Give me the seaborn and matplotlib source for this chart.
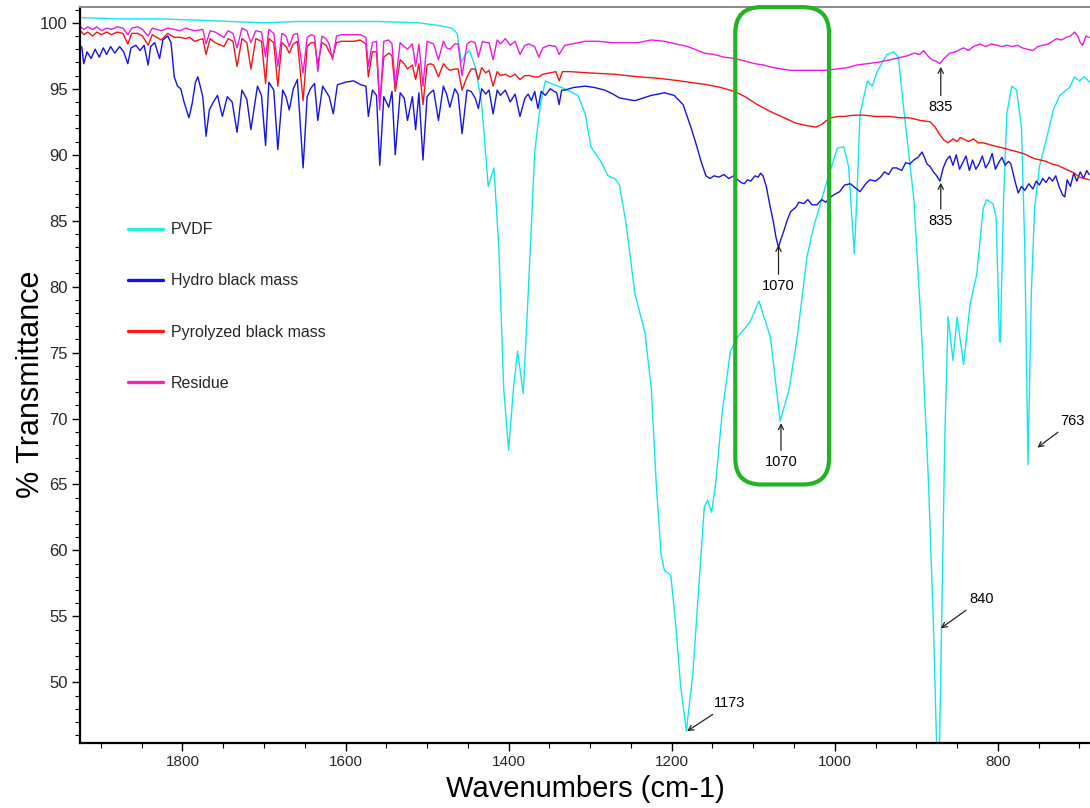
import numpy as np
import pandas as pd
import matplotlib
matplotlib.use("Agg")
import matplotlib.pyplot as plt
import seaborn as sns
from matplotlib.patches import FancyBboxPatch
from matplotlib.transforms import IdentityTransform
from matplotlib.ticker import MultipleLocator
from matplotlib.lines import Line2D

# ---------------- data ----------------
SERIES = ["PVDF", "Hydro black mass", "Pyrolyzed black mass", "Residue"]
COLORS = ["#12e6ea", "#1414e0", "#f41414", "#ee18e6"]
LEGEND_COLORS = ["#22eee0", "#1010f0", "#ff1a1a", "#ff1fb8"]

PVDF_WN = [1925.6, 1880, 1830, 1780, 1740, 1700, 1660, 1620, 1560, 1510, 1486, 1470,
           1463, 1458, 1453, 1448, 1440, 1433, 1428, 1425, 1418, 1415, 1412, 1406,
           1400, 1394, 1389, 1382, 1376, 1368, 1361, 1355, 1348, 1331, 1315, 1306,
           1299, 1287, 1278, 1270, 1264, 1256, 1245, 1233, 1225, 1219, 1213, 1209,
           1201, 1195, 1189, 1182, 1174, 1166, 1160, 1156, 1151, 1146, 1138, 1128,
           1119, 1104, 1093, 1079, 1067, 1056, 1046, 1034, 1026, 1009, 997, 989,
           983, 979, 976, 973, 969, 960, 954, 948, 936, 928, 922, 916, 903, 893,
           885, 879, 875, 872, 869, 865, 861, 855, 850, 842, 834, 826, 818, 814,
           806, 802, 798, 797, 793, 789, 783, 777, 771, 767, 763, 759, 755, 749,
           740, 732, 724, 712, 706, 700, 694, 687]
PVDF_T = [100.4, 100.3, 100.3, 100.2, 100.1, 100.0, 100.1, 100.1, 100.1, 100.0, 99.8, 99.6,
          99.2, 97.0, 97.6, 97.9, 96.5, 93.8, 90.0, 87.6, 89.0, 86.0, 83.0, 72.3,
          67.6, 72.3, 75.1, 71.9, 79.4, 90.2, 93.8, 95.6, 95.4, 95.0, 94.5, 93.1,
          90.6, 89.5, 88.4, 88.2, 87.7, 84.8, 79.4, 76.6, 72.3, 65.1, 59.7, 58.5,
          58.1, 54.3, 49.7, 46.3, 50.7, 57.9, 63.3, 63.8, 62.9, 65.1, 70.5, 75.1,
          76.2, 77.3, 78.9, 76.2, 69.8, 72.2, 76.2, 82.3, 84.5, 88.1, 90.5, 90.6,
          89.1, 85.2, 82.5, 86.6, 93.1, 95.6, 95.2, 96.3, 97.6, 97.8, 97.4, 93.8, 86.6, 75.9,
          65.1, 54.3, 45.0, 43.5, 54.3, 68.7, 77.7, 74.4, 77.7, 74.1, 78.7, 80.9, 85.9, 86.6,
          86.3, 85.2, 75.9, 75.8, 86.6, 93.1, 95.2, 94.9, 92.0, 83.0, 66.5, 79.4, 85.9, 89.1,
          91.3, 93.4, 94.5, 95.1, 95.9, 95.6, 95.9, 95.5]

HYDRO_WN = [1923.5, 1921, 1917, 1912, 1907, 1902, 1897, 1893, 1888, 1883, 1877, 1872,
            1867, 1863, 1857, 1852, 1847, 1842, 1839, 1834, 1828, 1824, 1818, 1814,
            1810, 1806, 1802, 1798, 1792, 1788, 1784, 1781, 1775, 1771, 1767, 1762,
            1757, 1751, 1745, 1739, 1733, 1727, 1721, 1716, 1708, 1703, 1698, 1694,
            1688, 1683, 1677, 1673, 1669, 1664, 1659, 1652, 1647, 1643, 1638, 1634,
            1628, 1624, 1620, 1615, 1610, 1605, 1600, 1590, 1581, 1575, 1572, 1567,
            1562, 1558, 1553, 1547, 1543, 1539, 1533, 1528, 1524, 1518, 1514, 1510,
            1505, 1500, 1496, 1492, 1486, 1480, 1476, 1472, 1466, 1462, 1457, 1451,
            1446, 1441, 1437, 1433, 1428, 1424, 1419, 1414, 1410, 1404, 1398, 1392,
            1386, 1380, 1376, 1372, 1368, 1364, 1360, 1355, 1349, 1344, 1341, 1338,
            1335, 1331, 1320, 1306, 1295, 1282, 1272, 1264, 1255, 1245, 1235, 1225,
            1216, 1209, 1197, 1186, 1176, 1170, 1164, 1158, 1153, 1148, 1142, 1136,
            1130, 1124, 1119, 1115, 1111, 1107, 1103, 1098, 1094, 1091, 1088, 1084,
            1080, 1075, 1072, 1069, 1066, 1062, 1058, 1054, 1048, 1044, 1038, 1033,
            1028, 1022, 1016, 1011, 1005, 1000, 994, 988, 981, 975, 969, 962, 957,
            950, 944, 939, 934, 929, 924, 918, 913, 908, 903, 898, 893, 890, 887,
            883, 879, 875, 871, 867, 863, 859, 855, 851, 847, 843, 839, 835, 831,
            827, 823, 819, 815, 811, 807, 803, 799, 795, 791, 787, 784, 779, 775,
            771, 767, 762, 757, 753, 749, 745, 741, 737, 733, 729, 725, 721, 718,
            715, 711, 707, 703, 699, 695, 691, 688]
HYDRO_T = [98.2, 96.9, 97.8, 97.3, 98.0, 97.4, 98.1, 97.6, 98.2, 97.7, 98.2, 97.8,
           96.9, 98.1, 98.3, 97.9, 98.3, 96.8, 98.2, 98.5, 97.3, 98.7, 99.0, 98.5,
           95.9, 95.2, 95.0, 94.0, 92.8, 93.9, 95.5, 95.9, 94.4, 91.4, 93.4, 94.0,
           94.5, 92.9, 94.4, 94.0, 91.7, 94.9, 94.2, 91.9, 95.2, 94.5, 90.7, 95.5,
           94.9, 90.4, 94.9, 94.4, 93.4, 95.0, 95.7, 89.0, 94.4, 95.0, 95.4, 92.6,
           95.2, 94.8, 94.4, 93.1, 95.3, 95.4, 95.5, 95.6, 95.3, 95.2, 92.9, 94.9,
           94.5, 89.2, 94.4, 93.6, 94.8, 90.0, 94.7, 94.3, 92.6, 94.4, 91.9, 94.7,
           89.6, 94.4, 94.7, 94.9, 92.6, 95.2, 94.6, 93.6, 95.0, 94.6, 91.6, 94.9,
           94.8, 94.3, 93.5, 95.0, 94.6, 94.9, 93.1, 94.9, 94.5, 94.9, 94.0, 94.6,
           92.9, 94.3, 94.6, 94.1, 94.8, 93.5, 94.8, 94.5, 95.0, 94.8, 94.7, 93.8,
           94.9, 94.9, 95.1, 95.2, 95.1, 94.9, 94.6, 94.3, 94.2, 94.1, 94.3, 94.5,
           94.6, 94.7, 94.5, 93.8, 92.0, 90.8, 89.5, 88.4, 88.2, 88.4, 88.3, 88.5,
           88.2, 88.4, 88.1, 87.9, 87.8, 88.1, 88.0, 88.4, 88.3, 88.6, 88.4, 87.6,
           86.3, 84.8, 83.7, 83.0, 83.6, 84.3, 85.1, 85.7, 86.0, 86.4, 86.3, 86.6,
           86.2, 86.2, 86.6, 86.4, 86.8, 87.0, 87.2, 87.7, 87.8, 87.5, 87.2, 87.8, 88.1,
           88.0, 88.3, 88.7, 88.5, 89.0, 89.0, 88.8, 89.4, 89.3, 89.6, 89.8, 90.2, 89.8, 89.3,
           89.1, 88.7, 88.4, 88.0, 89.0, 89.6, 89.9, 89.2, 90.0, 88.9, 89.4, 89.9, 88.8, 89.6,
           88.9, 89.3, 89.9, 89.0, 89.4, 90.1, 88.9, 89.4, 89.8, 89.2, 89.5, 89.3, 88.0, 87.1,
           87.6, 87.3, 87.8, 87.4, 88.0, 87.7, 88.2, 87.9, 88.3, 88.0, 88.4, 87.6, 87.0, 86.8,
           88.1, 87.6, 88.6, 88.0, 88.7, 88.2, 88.8, 88.5]

PYRO_WN = [1925, 1921, 1916, 1910, 1905, 1899, 1893, 1887, 1880, 1873, 1867, 1862,
           1855, 1849, 1842, 1837, 1826, 1818, 1810, 1803, 1796, 1791, 1785, 1775,
           1771, 1766, 1760, 1749, 1744, 1738, 1733, 1727, 1721, 1716, 1710, 1703,
           1698, 1694, 1688, 1683, 1678, 1673, 1669, 1664, 1659, 1652, 1647, 1642,
           1638, 1634, 1629, 1624, 1620, 1616, 1611, 1605, 1597, 1590, 1582, 1575,
           1572, 1567, 1562, 1558, 1553, 1547, 1543, 1539, 1533, 1528, 1524, 1518,
           1514, 1510, 1505, 1500, 1496, 1492, 1486, 1480, 1476, 1472, 1466, 1462,
           1457, 1451, 1446, 1441, 1437, 1433, 1428, 1424, 1419, 1414, 1410, 1404,
           1398, 1392, 1386, 1380, 1374, 1368, 1363, 1358, 1350, 1342, 1338, 1334,
           1325, 1300, 1270, 1240, 1217, 1190, 1156, 1140, 1123, 1110, 1095, 1080,
           1062, 1048, 1034, 1023, 1016, 1010, 1005, 995, 989, 976, 964, 950, 932,
           920, 908, 895, 883, 877, 871, 866, 861, 855, 850, 846, 842, 836, 830,
           824, 818, 812, 806, 800, 793, 787, 781, 775, 769, 762, 755, 748, 741,
           734, 727, 720, 713, 706, 700, 694, 688]
PYRO_T = [99.4, 99.1, 99.3, 99.0, 99.3, 99.1, 99.3, 99.1, 99.3, 99.2, 98.4, 99.2,
          99.2, 99.0, 98.3, 99.1, 98.7, 99.2, 98.9, 98.9, 98.8, 98.9, 98.6, 98.8,
          97.6, 98.8, 98.5, 98.2, 98.8, 98.6, 96.7, 98.8, 98.5, 96.5, 98.8, 98.6,
          95.4, 98.8, 98.5, 95.2, 98.5, 98.2, 97.7, 98.4, 98.6, 94.1, 98.2, 98.5,
          98.5, 96.8, 98.5, 98.3, 97.8, 97.4, 98.5, 98.6, 98.6, 98.6, 98.7, 98.4,
          95.9, 97.8, 97.8, 93.9, 97.4, 97.7, 97.5, 94.8, 97.2, 96.9, 96.5, 96.8,
          95.7, 96.9, 93.8, 96.8, 96.9, 96.8, 95.9, 96.9, 96.6, 96.4, 96.5, 96.5,
          94.9, 95.9, 96.5, 96.5, 95.7, 96.6, 96.2, 96.4, 95.2, 96.3, 96.0, 96.1,
          95.9, 96.1, 95.7, 96.0, 96.0, 95.9, 95.9, 96.1, 96.2, 96.3, 95.6, 96.3,
          96.3, 96.2, 96.1, 95.9, 95.8, 95.6, 95.3, 95.1, 94.8, 94.4, 93.8, 93.3,
          92.8, 92.4, 92.2, 92.1, 92.3, 92.6, 92.8, 92.9, 92.9, 93.0, 93.0, 92.9, 92.9,
          92.8, 92.8, 92.6, 92.5, 92.1, 91.5, 91.1, 90.9, 91.2, 91.0, 91.3, 91.2, 91.0, 91.2,
          90.9, 90.9, 90.8, 90.7, 90.6, 90.5, 90.4, 90.3, 90.2, 90.1, 89.9, 89.7, 89.6, 89.5,
          89.3, 89.2, 89.0, 88.8, 88.6, 88.3, 88.2, 88.1]

RESIDUE_WN = [1925, 1921, 1916, 1910, 1905, 1899, 1893, 1887, 1880, 1873, 1867, 1862,
              1855, 1849, 1842, 1837, 1826, 1818, 1810, 1803, 1796, 1791, 1785, 1775,
              1771, 1766, 1760, 1749, 1744, 1738, 1733, 1727, 1721, 1716, 1710, 1703,
              1698, 1694, 1688, 1683, 1678, 1673, 1669, 1664, 1659, 1652, 1647, 1642,
              1638, 1634, 1629, 1624, 1620, 1616, 1611, 1605, 1597, 1590, 1582, 1575,
              1572, 1567, 1562, 1558, 1553, 1547, 1543, 1539, 1533, 1528, 1524, 1518,
              1514, 1510, 1505, 1500, 1496, 1492, 1486, 1480, 1476, 1472, 1466, 1462,
              1457, 1451, 1446, 1441, 1437, 1432, 1428, 1424, 1419, 1414, 1410, 1404,
              1398, 1392, 1386, 1380, 1375, 1368, 1363, 1358, 1350, 1342, 1338, 1331,
              1306, 1290, 1274, 1258, 1241, 1225, 1209, 1195, 1180, 1168, 1160, 1148,
              1136, 1123, 1110, 1098, 1087, 1075, 1065, 1054, 1040, 1026, 1012, 997,
              985, 973, 960, 948, 940, 932, 925, 918, 911, 903, 896, 891, 886, 881,
              876, 871, 866, 859, 852, 846, 842, 836, 830, 822, 815, 808, 801, 795,
              789, 782, 776, 770, 764, 757, 751, 745, 738, 733, 728, 722, 716, 711,
              706, 702, 699, 696, 692, 688]
RESIDUE_T = [99.7, 99.5, 99.7, 99.5, 99.7, 99.4, 99.6, 99.5, 99.7, 99.6, 99.1, 99.6,
             99.7, 99.5, 99.0, 99.6, 99.4, 99.6, 99.5, 99.4, 99.6, 99.5, 99.4, 99.5,
             98.4, 99.4, 99.3, 98.9, 99.4, 99.2, 98.1, 99.6, 99.4, 98.5, 99.4, 99.3,
             97.4, 99.5, 99.2, 96.7, 99.2, 99.0, 98.2, 99.1, 99.2, 96.2, 98.9, 99.1,
             99.0, 96.3, 99.0, 98.8, 98.4, 97.2, 99.0, 99.1, 99.1, 99.1, 99.1, 98.9,
             96.7, 98.5, 98.6, 93.4, 98.6, 98.7, 98.4, 95.3, 98.5, 98.2, 98.0, 98.4,
             96.7, 98.4, 95.2, 98.6, 98.5, 98.4, 97.2, 98.6, 98.1, 98.0, 98.4, 98.4,
             96.0, 98.4, 98.6, 98.5, 97.4, 98.6, 98.5, 98.5, 97.2, 98.7, 98.4, 98.8,
             98.3, 98.6, 97.6, 98.3, 98.4, 98.2, 97.4, 98.1, 98.3, 98.2, 97.6, 98.3,
             98.6, 98.6, 98.5, 98.5, 98.5, 98.7, 98.6, 98.4, 98.2, 97.9, 97.7, 97.6,
             97.4, 97.3, 97.1, 96.9, 96.8, 96.6, 96.5, 96.4, 96.4, 96.4, 96.4, 96.5,
             96.6, 96.8, 96.9, 97.0, 97.1, 97.2, 97.3, 97.4, 97.5, 97.7, 97.6, 97.9, 97.5, 97.2,
             97.1, 96.9, 97.3, 97.7, 97.8, 98.0, 98.1, 97.9, 98.2, 98.4, 98.2, 98.4, 98.3, 98.2,
             98.3, 98.2, 98.3, 98.1, 98.0, 97.9, 98.2, 98.3, 98.4, 98.6, 98.8, 98.7, 98.9, 99.0,
             99.3, 99.0, 98.5, 98.3, 99.0, 98.9]

X_TICKS = [1800, 1600, 1400, 1200, 1000, 800]
Y_TICKS = [50, 55, 60, 65, 70, 75, 80, 85, 90, 95, 100]

# peak annotations: label, peak (wn, T), text (wn, T)
ANN_LABELS = ["1173", "840", "763", "1070", "1070", "835", "835"]
ANN_PEAK_WN = [1181, 870, 751.5, 1066, 1069, 870, 870]
ANN_PEAK_T = [46.3, 54.1, 67.8, 69.65, 83.16, 87.87, 96.66]
ANN_TEXT_WN = [1129, 820, 708, 1066, 1069, 870, 870]
ANN_TEXT_T = [48.4, 56.3, 69.8, 66.7, 80.05, 85.0, 93.6]

# highlight box (data units)
BOX_WN = [1122, 1007]
BOX_T = [65.0, 101.19]

# ---------------- figure ----------------
sns.set_theme(style="ticks")
plt.rcParams["font.family"] = ["Liberation Sans", "DejaVu Sans"]

fig = plt.figure(figsize=(10.9, 8.08), dpi=100)
ax = fig.add_axes([80 / 1090, 65 / 808, 1010 / 1090, 736 / 808])

frames = []
for name, wn, t in [(SERIES[0], PVDF_WN, PVDF_T), (SERIES[1], HYDRO_WN, HYDRO_T),
                    (SERIES[2], PYRO_WN, PYRO_T), (SERIES[3], RESIDUE_WN, RESIDUE_T)]:
    frames.append(pd.DataFrame({"wn": wn, "T": t, "sample": name}))
df = pd.concat(frames, ignore_index=True)

sns.lineplot(data=df, x="wn", y="T", hue="sample", hue_order=SERIES,
             palette=dict(zip(SERIES, COLORS)), estimator=None, sort=True,
             linewidth=1.0, legend=False, ax=ax)

ax.set_xlim(1925.6, 687)
ax.set_ylim(45.4, 101.2)
ax.set_xticks(X_TICKS)
ax.set_yticks(Y_TICKS)
ax.xaxis.set_minor_locator(MultipleLocator(50))
ax.yaxis.set_minor_locator(MultipleLocator(1))
ax.tick_params(axis="both", which="major", direction="out", length=6, width=1,
               color="black", pad=3)
ax.tick_params(axis="x", which="major", labelsize=11)
ax.tick_params(axis="y", which="major", labelsize=12)
ax.tick_params(axis="both", which="minor", direction="out", length=3.5, width=0.8,
               color="black")
for s in ["left", "bottom"]:
    ax.spines[s].set_color("black")
    ax.spines[s].set_linewidth(1.6)
ax.spines["top"].set_color("#8a8a8a")
ax.spines["top"].set_linewidth(1.4)
ax.spines["right"].set_visible(False)
ax.grid(False)

ax.set_xlabel("Wavenumbers (cm-1)", fontsize=21, labelpad=4, color="black")
ax.set_ylabel("% Transmittance", fontsize=22, color="black")
ax.yaxis.set_label_coords(-0.034, 0.487)

# legend
handles = [Line2D([0], [0], color=c, lw=2.4) for c in LEGEND_COLORS]
ax.legend(handles, SERIES, loc="upper left", bbox_to_anchor=(0.0475, 0.7076),
          frameon=False, fontsize=11.5, handlelength=2.2, handletextpad=0.5,
          labelspacing=2.27, borderpad=0, borderaxespad=0)

# annotations
for lab, pw, pt, tw, tt in zip(ANN_LABELS, ANN_PEAK_WN, ANN_PEAK_T, ANN_TEXT_WN, ANN_TEXT_T):
    ax.annotate(lab, xy=(pw, pt), xytext=(tw, tt), ha="center", va="center",
                fontsize=10.5, color="black",
                arrowprops=dict(arrowstyle="->,head_length=0.35,head_width=0.18",
                                color="#222222", lw=0.9, shrinkA=1, shrinkB=0))

# green highlight box, drawn in pixel space so the corners stay round
(x0, y0) = ax.transData.transform((BOX_WN[0], BOX_T[0]))
(x1, y1) = ax.transData.transform((BOX_WN[1], BOX_T[1]))
box = FancyBboxPatch((min(x0, x1), min(y0, y1)), abs(x1 - x0), abs(y1 - y0),
                     boxstyle="round,pad=0,rounding_size=26", fill=False,
                     edgecolor="#22b322", linewidth=3.0,
                     transform=IdentityTransform(), clip_on=False, zorder=5)
ax.add_patch(box)

fig.savefig("out.png", dpi=100, facecolor="white")
